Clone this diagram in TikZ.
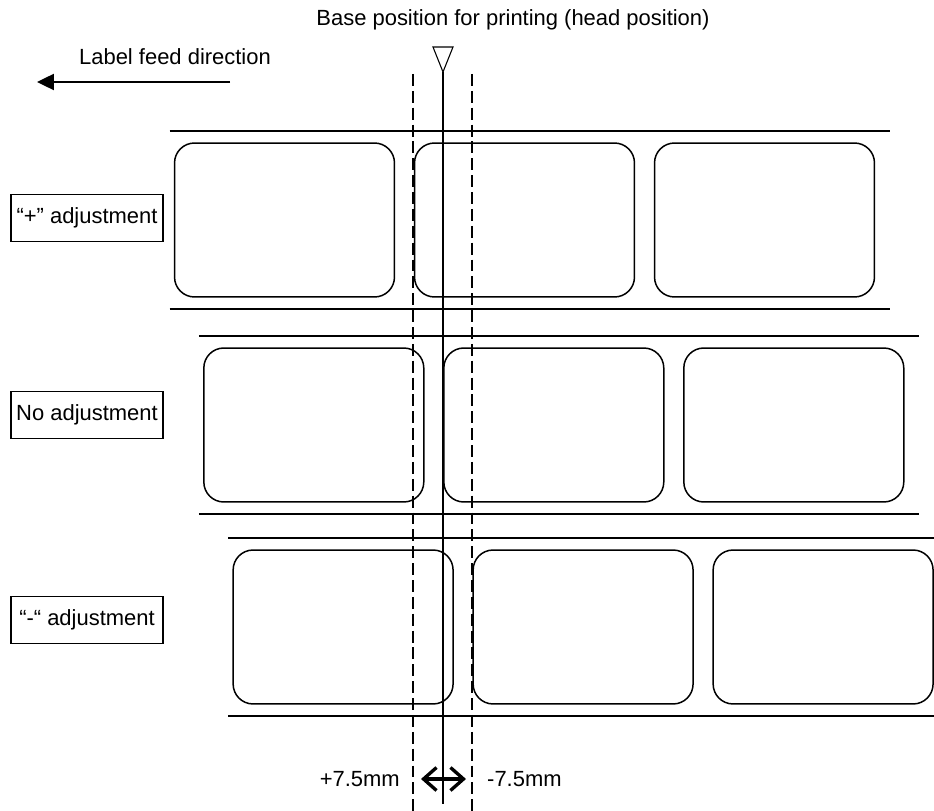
\documentclass[tikz,border=0pt]{standalone}
\usepackage{fontspec}
\setmainfont{Liberation Sans}
\usetikzlibrary{arrows.meta}

\begin{document}
\begin{tikzpicture}[
  x=0.02cm, y=-0.02cm,
  font=\fontsize{12.5}{14}\selectfont,
  lbl/.style={draw, rounded corners=0.4cm, line width=0.85pt,
              minimum width=4.4cm, minimum height=3.08cm, inner sep=0pt},
  tape/.style={line width=0.85pt},
  rowtag/.style={draw, line width=0.8pt, minimum width=3.04cm,
                 minimum height=0.94cm, inner sep=2pt},
  guide/.style={line width=1.3pt, dash pattern=on 6.8pt off 2.8pt},
  feed/.style={-{Triangle[length=3.4mm, width=3.2mm]}, line width=1.4pt},
  adjrange/.style={{Straight Barb[length=2.6mm, width=4.6mm]}-{Straight Barb[length=2.6mm, width=4.6mm]},
                line width=1.9pt},
]
\useasboundingbox (0,0) rectangle (934,811);

% ── heading and feed direction ──────────────────────────────────────────────
\node (base) at (513,20) {Base position for printing (head position)};
\node (feedtxt) at (175,57) {Label feed direction};
\coordinate (feedA) at (230,82);
\coordinate (feedB) at (37,82);
\draw[feed] (feedA) -- (feedB);

% ── label rows ───────────────────────────────────────────────────────────────
% row r: first label centre x = 284.5 + 29.3 r, pitch 240
\foreach \r/\y/\t/\ty in {0/220/{“+” adjustment}/218,
                          1/425/{No adjustment}/415,
                          2/627/{“-“ adjustment}/620}{
  \pgfmathsetmacro{\x}{284.5+29.3*\r}
  \node[rowtag] (tag\r) at (87,\ty) {\t};
  \draw[tape] (\x-115,\y-89) -- ++(720,0);
  \draw[tape] (\x-115,\y+89) -- ++(720,0);
  \foreach \k in {0,1,2}{
    \node[lbl] (lab\r\k) at (\x+240*\k,\y) {};
  }
}

% ── head position and adjustment range ──────────────────────────────────────
\draw[line width=0.6pt] (433,47) -- (453,47) -- (443,72) -- cycle;
\coordinate (apex) at (443,72);
\coordinate (foot) at (443,804);
\draw[line width=0.6pt] (apex) -- (foot);
\draw[guide] (413,74) -- (413,811);
\draw[guide] (472,74) -- (472,811);

\coordinate (plus) at (421,779);
\coordinate (minus) at (466,779);
\draw[adjrange] (plus) -- (minus);
\node[anchor=east] (plustxt) at (406,779) {+7.5mm};
\node[anchor=west] (minustxt) at (481,779) {-7.5mm};

\end{tikzpicture}
\end{document}
